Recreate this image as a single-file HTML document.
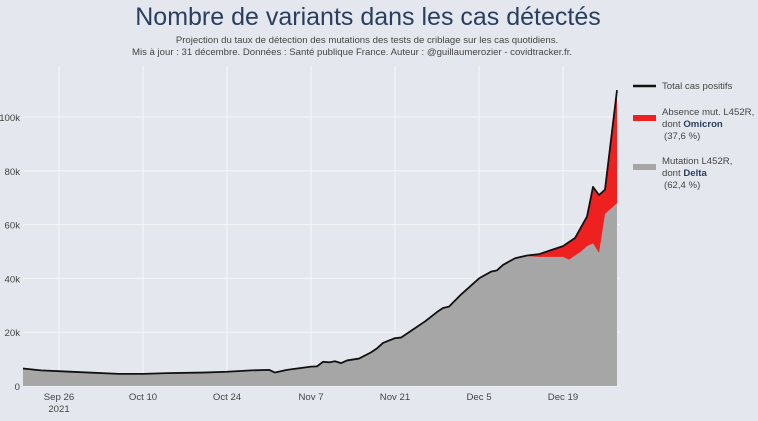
<!DOCTYPE html>
<html><head><meta charset="utf-8"><style>
body{margin:0;width:758px;height:416px;background:#e4e8ee;font-family:"Liberation Sans",sans-serif;overflow:hidden}
</style></head><body>
<svg id="c" width="758" height="416">
<text x="368" y="25" text-anchor="middle" font-size="25" fill="#2a3f5f">Nombre de variants dans les cas détectés</text>
<text x="367" y="43" text-anchor="middle" font-size="9.6" fill="#444">Projection du taux de détection des mutations des tests de criblage sur les cas quotidiens.</text>
<text x="352" y="55" text-anchor="middle" font-size="9.6" fill="#444">Mis à jour : 31 décembre. Données : Santé publique France. Auteur : @guillaumerozier - covidtracker.fr.</text>
<g id="grid"></g><g id="marks"></g><g id="axes"></g>
<g font-size="9.6" fill="#444">
<line x1="633" y1="86" x2="656" y2="86" stroke="#111" stroke-width="2.5"/>
<text x="662" y="89">Total cas positifs</text>
<rect x="633" y="115" width="23" height="6" fill="#ee2020"/>
<text x="662" y="115"><tspan>Absence mut. L452R,</tspan><tspan x="662" dy="12">dont </tspan><tspan font-weight="bold" fill="#2a3f5f">Omicron</tspan><tspan x="664" dy="12">(37,6 %)</tspan></text>
<rect x="633" y="164" width="23" height="6" fill="#a6a6a6"/>
<text x="662" y="164"><tspan>Mutation L452R,</tspan><tspan x="662" dy="12">dont </tspan><tspan font-weight="bold" fill="#2a3f5f">Delta</tspan><tspan x="664" dy="12">(62,4 %)</tspan></text>
</g>
</svg>
<script>
// day offsets from Sep 20 2021, values in thousands
const totalDays=[0,3,6,11,16,20,24,30,34,38,41,42,44,48,49,50,51,52,53,54,56,58,59,60,62,63,65,67,69,70,71,73,75,76,78,79,80,82,84,86,88,90,92,94,95,96,97,99];
const totalVals=[6.5,5.8,5.5,5.0,4.5,4.5,4.8,5.0,5.3,5.8,6.0,5.0,6.0,7.2,7.3,9.0,8.8,9.2,8.5,9.5,10.2,12.5,14,16,17.8,18,21,24,27.5,29,29.5,34,38,40,42.5,43,45,47.5,48.5,49,50.5,52,55,63,74,71,73,110];
const deltaDays=[84,86,88,90,91,92,93,94,95,96,97,98,99];
const deltaVals=[48.3,48,48,48,47,48.5,50,52,53,49.5,64,66,68];
const yTicks=[0,20,40,60,80,100];
const yLabels=["0","20k","40k","60k","80k","100k"];
const xTickDays=[6,20,34,48,62,76,90];
const xLabels=["Sep 26","Oct 10","Oct 24","Nov 7","Nov 21","Dec 5","Dec 19"];
const X=d=>23+d*6, Y=v=>386-v*2.69;
const ns="http://www.w3.org/2000/svg";
function mk(p,t,a){const e=document.createElementNS(ns,t);for(const k in a)e.setAttribute(k,a[k]);document.getElementById(p).appendChild(e);return e;}
yTicks.forEach((t,i)=>{const l=mk('grid','line',{x1:23,x2:620,y1:Y(t),y2:Y(t),stroke:'#f4f6f9','stroke-width':1});


const tx=mk('axes','text',{x:20,y:Y(t)+4,'text-anchor':'end','font-size':9.6,fill:'#444'});tx.textContent=yLabels[i];

});
xTickDays.forEach((d,i)=>{const l=mk('grid','line',{x1:X(d),x2:X(d),y1:66,y2:386,stroke:'#f4f6f9','stroke-width':1});


const tx=mk('axes','text',{x:X(d),y:400,'text-anchor':'middle','font-size':9.6,fill:'#444'});tx.textContent=xLabels[i];

});
const yr=mk('axes','text',{x:X(6),y:412,'text-anchor':'middle','font-size':9.6,fill:'#444'});yr.textContent="2021";


let tp=totalDays.map((d,i)=>X(d)+','+Y(totalVals[i]));
const last=totalDays[totalDays.length-1];
const red=mk('marks','polygon',{points:X(0)+','+Y(0)+' '+tp.join(' ')+' '+X(last)+','+Y(0),fill:'#ee2020'});


let dp=[];totalDays.forEach((d,i)=>{if(d<deltaDays[0])dp.push([d,totalVals[i]]);});deltaDays.forEach((d,i)=>dp.push([d,deltaVals[i]]));
const grey=mk('marks','polygon',{points:X(0)+','+Y(0)+' '+dp.map(p=>X(p[0])+','+Y(p[1])).join(' ')+' '+X(last)+','+Y(0),fill:'#a6a6a6'});


const line=mk('marks','polyline',{points:tp.join(' '),fill:'none',stroke:'#111','stroke-width':1.8,'stroke-linejoin':'round'});


</script>
</body></html>
